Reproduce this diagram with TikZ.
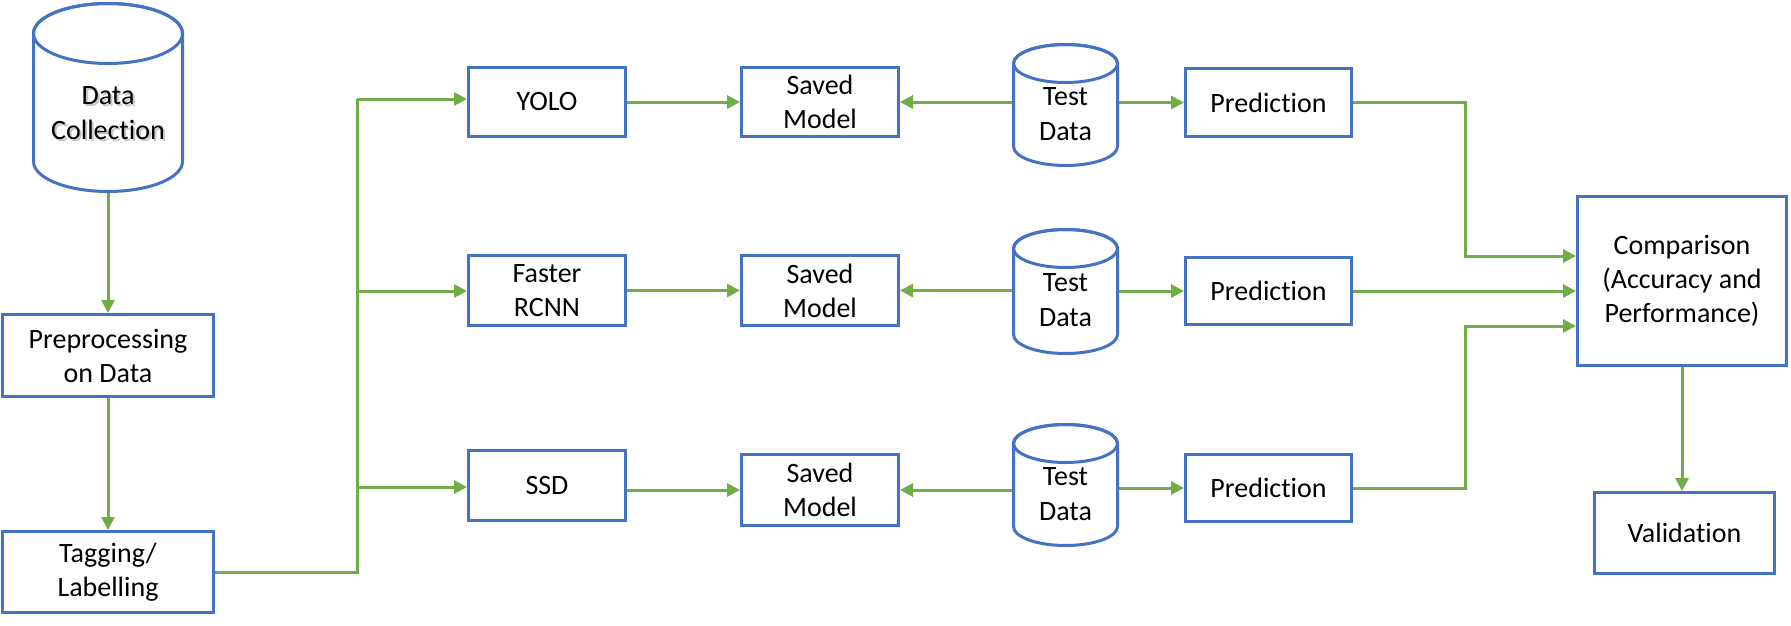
\documentclass[tikz,border=0pt]{standalone}
\usepackage{fontspec}
\setmainfont{Carlito}[Ligatures={NoCommon,NoContextual}, Contextuals=NoAlternate, RawFeature={-dlig;-rlig}]
\usetikzlibrary{arrows.meta,calc}
\definecolor{lgreen}{HTML}{70AD47}
\definecolor{lblue}{HTML}{4472C4}
\tikzset{
 box/.style={draw=lblue, line width=3pt, fill=white, inner sep=0pt, align=center, font=\fontsize{28}{34}\selectfont},
 cyltext/.style={inner sep=0pt, align=center, font=\fontsize{28}{35}\selectfont},
 conn/.style={draw=lgreen, line width=3pt},
 arr/.style={conn, -{Triangle[length=13pt,width=13pt]}},
 cylborder/.style={draw=lblue, line width=3pt, fill=white},
}
\newcommand\drawcyl[5]{%
 \filldraw[cylborder] (#1-#4, #2-#5) -- (#1-#4, #3+#5) arc[start angle=180, end angle=360, x radius=#4, y radius=#5] -- (#1+#4, #2-#5) arc[start angle=0, end angle=180, x radius=#4, y radius=#5] -- cycle;
 \draw[cylborder, fill=none] (#1, #2-#5) ellipse [x radius=#4, y radius=#5];
}
\begin{document}
\begin{tikzpicture}[x=1pt,y=1pt]
\fill[white] (0,0) rectangle (1791,-625);
\useasboundingbox (0,0) rectangle (1791,-625);

% cylinders
\drawcyl{108}{-3.5}{-191.5}{74.5}{30}
\drawcyl{1065.5}{-44.5}{-165.5}{52}{19}
\drawcyl{1065.5}{-229.5}{-353.5}{52}{19}
\drawcyl{1065.5}{-424.5}{-545.5}{52}{19}

\node[cyltext, minimum width=152, text=black!22] (dcshadow) at (110,-115.5) {Data\\Collection};
\node[cyltext, minimum width=152] (dc) at (108,-113.5) {Data\\Collection};
\coordinate (dcb) at (108,-193);

\node[cyltext, minimum width=107] (t1) at (1065.5,-114.5) {Test\\Data};
\node[cyltext, minimum width=107] (t2) at (1065.5,-300.5) {Test\\Data};
\node[cyltext, minimum width=107] (t3) at (1065.5,-494.5) {Test\\Data};

% boxes
\node[box, minimum width=211, minimum height=82] (pre) at (108,-355.5) {Preprocessing\\on Data};
\node[box, minimum width=211, minimum height=81] (tag) at (108,-572) {Tagging/\\Labelling};

\node[box, minimum width=157, minimum height=69] (yolo) at (547,-102) {YOLO};
\node[box, minimum width=157, minimum height=70] (faster) at (547,-290.5) {Faster\\RCNN};
\node[box, minimum width=157, minimum height=70] (ssd) at (547,-485.5) {SSD};

\node[box, minimum width=157, minimum height=69] (s1) at (820,-102) {Saved\\Model};
\node[box, minimum width=157, minimum height=70] (s2) at (820,-290.5) {Saved\\Model};
\node[box, minimum width=157, minimum height=71] (s3) at (820,-490) {Saved\\Model};

\node[box, minimum width=166, minimum height=68] (p1) at (1268.5,-102.5) {Prediction};
\node[box, minimum width=166, minimum height=67] (p2) at (1268.5,-291) {Prediction};
\node[box, minimum width=166, minimum height=67] (p3) at (1268.5,-488) {Prediction};

\node[box, minimum width=209, minimum height=169] (cmp) at (1682,-281) {Comparison\\(Accuracy and\\Performance)};
\node[box, minimum width=180, minimum height=81] (val) at (1684.5,-533) {Validation};

% connectors left
\draw[arr] (dcb) -- (pre.north);
\draw[arr] (pre.south) -- (tag.north);
\coordinate (jt) at (357,-99);
\coordinate (j2) at (357,-291);
\coordinate (j3) at (357,-487);
\draw[conn] (tag.east) -| (jt);
\draw[arr] (jt) -- (jt -| yolo.west);
\draw[arr] (j2) -- (j2 -| faster.west);
\draw[arr] (j3) -- (j3 -| ssd.west);

% rows
\draw[arr] (yolo.east) -- (yolo.east -| s1.west);
\draw[arr] (faster.east) -- (faster.east -| s2.west);
\draw[arr] (ssd.east |- s3.west) -- (s3.west);

\draw[arr] (t1.west |- s1.east) -- (s1.east);
\draw[arr] (t2.west |- s2.east) -- (s2.east);
\draw[arr] (t3.west |- s3.east) -- (s3.east);

\draw[arr] (t1.east |- p1.west) -- (p1.west);
\draw[arr] (t2.east |- p2.west) -- (p2.west);
\draw[arr] (t3.east |- p3.west) -- (p3.west);

% right side
\coordinate (k1) at (1465,-256);
\coordinate (k3) at (1465,-326);
\draw[arr] (p1.east) -| (k1) -- (k1 -| cmp.west);
\draw[arr] (p2.east) -- (p2.east -| cmp.west);
\draw[arr] (p3.east) -| (k3) -- (k3 -| cmp.west);
\draw[arr] (cmp.south) -- (cmp.south |- val.north);
\end{tikzpicture}
\end{document}
